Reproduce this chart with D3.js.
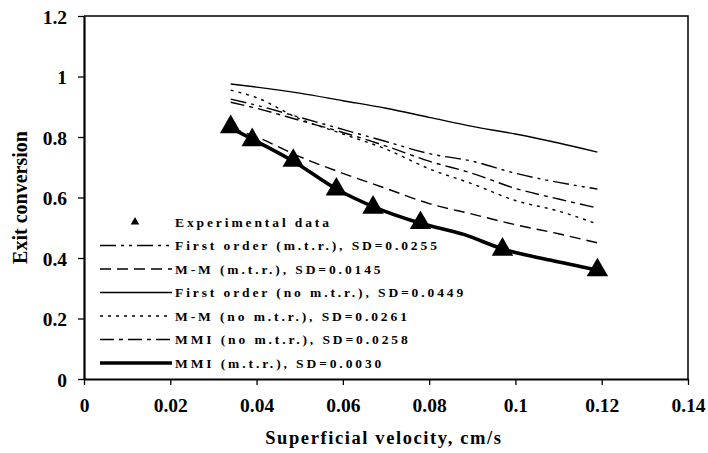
<!DOCTYPE html>
<html>
<head>
<meta charset="utf-8">
<script src="https://cdn.jsdelivr.net/npm/d3@7"></script>
<style>
  body { margin: 0; background: #fff; }
  svg { display: block; font-family: "Liberation Serif", "Times New Roman", serif; }
</style>
</head>
<body>
<svg id="chart"></svg>
<script>
// chart values
const expX = [0.034, 0.039, 0.0485, 0.0585, 0.067, 0.078, 0.097, 0.119]
const expY = [0.833, 0.79, 0.722, 0.627, 0.567, 0.516, 0.428, 0.36]

const modelX = [0.034, 0.04, 0.05, 0.06, 0.07, 0.08, 0.09, 0.1, 0.11, 0.119]
const firstMtr  = [0.925, 0.905, 0.865, 0.825, 0.785, 0.745, 0.72, 0.68, 0.65, 0.628]
const mmMtr     = [0.83, 0.80, 0.735, 0.68, 0.63, 0.58, 0.545, 0.51, 0.48, 0.45]
const firstNo   = [0.975, 0.965, 0.945, 0.92, 0.895, 0.865, 0.835, 0.81, 0.78, 0.75]
const mmNo      = [0.955, 0.93, 0.86, 0.81, 0.76, 0.695, 0.645, 0.59, 0.555, 0.512]
const mmiNo     = [0.915, 0.895, 0.855, 0.815, 0.77, 0.72, 0.68, 0.63, 0.595, 0.565]

const mmiMtrX = [0.034, 0.039, 0.0485, 0.0585, 0.067, 0.078, 0.088, 0.097, 0.108, 0.119]
const mmiMtrY = [0.83, 0.793, 0.72, 0.628, 0.57, 0.515, 0.478, 0.43, 0.393, 0.36]

const legendLabels = [
  "Experimental data",
  "First order (m.t.r.), SD=0.0255",
  "M-M (m.t.r.), SD=0.0145",
  "First order (no m.t.r.), SD=0.0449",
  "M-M (no m.t.r.), SD=0.0261",
  "MMI (no m.t.r.), SD=0.0258",
  "MMI (m.t.r.), SD=0.0030"
]

const xTicks = [0, 0.02, 0.04, 0.06, 0.08, 0.1, 0.12, 0.14]
const yTicks = [0, 0.2, 0.4, 0.6, 0.8, 1, 1.2]

///////////////////////////////////////////
//////////////// Layout ///////////////////
///////////////////////////////////////////
const width = 708
const height = 453
const margin = { top: 16, right: 20, bottom: 74, left: 84 }
const innerW = width - margin.left - margin.right
const innerH = height - margin.top - margin.bottom

// line styles, in legend order (after the markers row)
const styles = [
  { dash: "16,5,3,5,3,5", w: 1.4 },
  { dash: "11,6", w: 1.4 },
  { dash: null, w: 1.4 },
  { dash: "3,5", w: 1.4 },
  { dash: "14,5,4,5", w: 1.4 },
  { dash: null, w: 3.6 }
]

const svg = d3.select("#chart")
  .attr("width", width)
  .attr("height", height)

svg.append("rect").attr("width", width).attr("height", height).attr("fill", "#fff")

const g = svg.append("g")
  .attr("transform", `translate(${margin.left},${margin.top})`)

const x = d3.scaleLinear().domain([0, 0.14]).range([0, innerW])
const y = d3.scaleLinear().domain([0, 1.2]).range([innerH, 0])

const fmt = d => String(+d.toFixed(2))

// frame (top + right)
g.append("path")
  .attr("d", `M0,0H${innerW}V${innerH}`)
  .attr("fill", "none")
  .attr("stroke", "#000")
  .attr("stroke-width", 1.5)

// axes
const xAxis = g.append("g")
  .attr("transform", `translate(0,${innerH})`)
  .call(d3.axisBottom(x).tickValues(xTicks).tickFormat(fmt).tickSizeInner(6).tickSizeOuter(0).tickPadding(13))
const yAxis = g.append("g")
  .call(d3.axisLeft(y).tickValues(yTicks).tickFormat(fmt).tickSizeInner(6).tickSizeOuter(0).tickPadding(11))

;[xAxis, yAxis].forEach(a => {
  a.select(".domain").attr("stroke-width", 2.2)
  a.selectAll(".tick line").attr("stroke-width", 1.3)
  a.selectAll("text")
    .attr("font-size", 19.5)
    .attr("font-weight", "bold")
    .attr("font-family", "Liberation Serif, Times New Roman, serif")
    .attr("fill", "#000")
})
yAxis.selectAll("text").attr("dy", "0.36em")

// axis titles
svg.append("text")
  .attr("x", margin.left + x(0.0695))
  .attr("y", 444)
  .attr("text-anchor", "middle")
  .attr("font-size", 18.5)
  .attr("font-weight", "bold")
  .attr("letter-spacing", 1.6)
  .text("Superficial velocity, cm/s")

svg.append("text")
  .attr("transform", `translate(27,${margin.top + y(0.6)}) rotate(-90)`)
  .attr("text-anchor", "middle")
  .attr("font-size", 20)
  .attr("font-weight", "bold")
  .text("Exit conversion")

///////////////////////////////////////////
//////////////// Series ///////////////////
///////////////////////////////////////////
const line = d3.line()
  .x(d => x(d[0]))
  .y(d => y(d[1]))
  .curve(d3.curveMonotoneX)

const seriesYs = [firstMtr, mmMtr, firstNo, mmNo, mmiNo]
seriesYs.forEach((ys, i) => {
  g.append("path")
    .datum(modelX.map((v, j) => [v, ys[j]]))
    .attr("d", line)
    .attr("fill", "none")
    .attr("stroke", "#000")
    .attr("stroke-width", styles[i].w)
    .attr("stroke-dasharray", styles[i].dash)
})

g.append("path")
  .datum(mmiMtrX.map((v, j) => [v, mmiMtrY[j]]))
  .attr("d", line)
  .attr("fill", "none")
  .attr("stroke", "#000")
  .attr("stroke-width", styles[5].w)
  .attr("stroke-linejoin", "round")

const tri = d3.symbol().type(d3.symbolTriangle).size(200)
g.selectAll(".exp")
  .data(expX.map((v, j) => [v, expY[j]]))
  .join("path")
  .attr("class", "exp")
  .attr("transform", d => `translate(${x(d[0])},${y(d[1])})`)
  .attr("d", tri)
  .attr("fill", "#000")

///////////////////////////////////////////
//////////////// Legend ///////////////////
///////////////////////////////////////////
const legend = svg.append("g").attr("transform", "translate(100,222)")
const rowH = 23.5
legendLabels.forEach((lab, i) => {
  const row = legend.append("g").attr("transform", `translate(0,${i * rowH})`)
  if (i === 0) {
    row.append("path")
      .attr("transform", "translate(35,0)")
      .attr("d", d3.symbol().type(d3.symbolTriangle).size(32))
      .attr("fill", "#000")
  } else {
    const s = styles[i - 1]
    row.append("line")
      .attr("x1", 0).attr("x2", 72)
      .attr("stroke", "#000")
      .attr("stroke-width", s.w)
      .attr("stroke-dasharray", s.dash)
  }
  row.append("text")
    .attr("x", 75)
    .attr("dy", "0.35em")
    .attr("font-size", 13.5)
    .attr("font-weight", "bold")
    .attr("letter-spacing", 2.9)
    .text(lab)
})
</script>
</body>
</html>
